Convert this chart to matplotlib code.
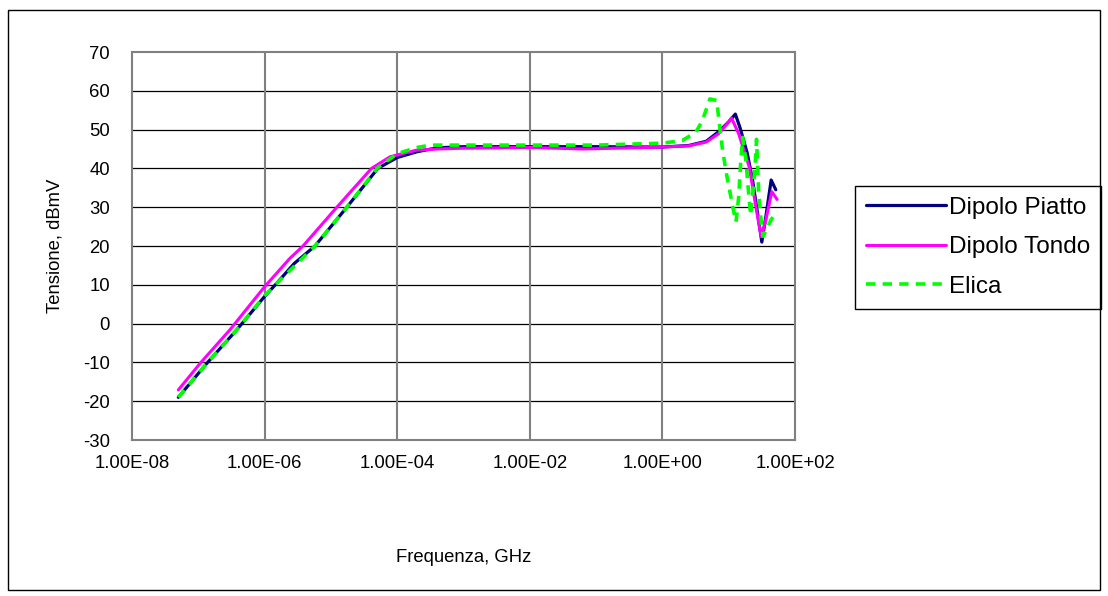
import matplotlib
matplotlib.use("Agg")
import matplotlib.pyplot as plt
from matplotlib.patches import Rectangle
from matplotlib.ticker import FixedLocator, FuncFormatter, NullLocator

plt.rcParams['font.family'] = ['Liberation Sans', 'DejaVu Sans']
plt.rcParams['axes.unicode_minus'] = False

# ---- data (frequency in GHz, voltage in dBmV) ----
piatto_f = [5.0e-8, 1.35e-7, 3.8e-7, 1.0e-6, 1.45e-6, 2.8e-6, 5.75e-6, 1.74e-5,
            5.1e-5, 1.0e-4, 2.0e-4, 4.0e-4, 1.0e-3, 1.0e-2, 1.0e-1, 1.0,
            2.5, 4.6, 7.1, 10.0, 12.6, 14.8, 19.0, 22.9, 27.5, 31.6, 36.3, 43.7, 51.3]
piatto_v = [-19.0, -10.2, -1.6, 7.0, 10.0, 15.5, 20.0, 30.0,
            40.0, 42.8, 44.3, 45.3, 45.6, 45.6, 45.6, 45.5,
            45.9, 47.0, 49.5, 52.0, 54.0, 50.5, 44.0, 37.0, 28.0, 21.0, 27.5, 37.0, 34.5]

tondo_f = [5.0e-8, 1.07e-7, 3.0e-7, 1.0e-6, 2.4e-6, 3.8e-6, 1.23e-5, 4.1e-5,
           7.8e-5, 1.95e-4, 4.0e-4, 1.0e-3, 1.0e-2, 6.3e-2, 1.0,
           2.5, 4.6, 7.1, 10.0, 11.0, 14.1, 20.4, 25.7, 30.9, 36.3, 44.7, 53.7]
tondo_v = [-17.1, -10.2, -1.6, 9.5, 16.8, 20.0, 30.0, 40.0,
           43.0, 44.7, 45.0, 45.2, 45.4, 45.0, 45.5,
           45.8, 46.8, 49.0, 52.0, 53.0, 49.0, 40.4, 30.1, 22.4, 26.7, 34.0, 32.0]

elica_f = [5.0e-8, 1.35e-7, 3.8e-7, 1.0e-6, 1.45e-6, 5.75e-6, 1.74e-5, 5.1e-5,
           1.0e-4, 2.0e-4, 3.2e-4, 1.0e-3, 1.0e-2, 1.0e-1, 1.0,
           2.0, 3.2, 4.0, 5.2, 6.6, 7.2, 8.1, 9.5, 12.0, 12.9, 14.1, 15.1,
           16.2, 18.2, 19.5, 21.4, 23.4, 25.1, 26.3, 28.2, 30.2, 33.1, 43.7, 52.5]
elica_v = [-19.0, -10.2, -1.6, 7.2, 10.0, 20.0, 30.0, 40.2,
           43.8, 45.4, 46.0, 46.0, 46.0, 46.0, 46.5,
           47.2, 49.3, 52.3, 57.9, 57.5, 51.7, 44.6, 37.5, 28.6, 26.2, 32.4, 41.0,
           48.0, 42.0, 35.7, 27.9, 34.7, 41.0, 47.5, 34.7, 27.9, 22.5, 26.8, 28.5]

xticks = [1e-8, 1e-6, 1e-4, 1e-2, 1e0, 1e2]
yticks = [-30, -20, -10, 0, 10, 20, 30, 40, 50, 60, 70]

W, H = 1108, 596
fig = plt.figure(figsize=(W / 100, H / 100), dpi=100)
fig.patch.set_facecolor('white')

L, R, T, B = 132, 795, 52, 440
ax = fig.add_axes([L / W, 1 - B / H, (R - L) / W, (B - T) / H])

ax.plot(piatto_f, piatto_v, color='#000080', lw=2.3, solid_joinstyle='round',
        solid_capstyle='round', label='Dipolo Piatto', zorder=3)
ax.plot(tondo_f, tondo_v, color='#FF00FF', lw=2.2, solid_joinstyle='round',
        solid_capstyle='round', label='Dipolo Tondo', zorder=4)
ax.plot(elica_f, elica_v, color='#00FF00', lw=2.6, dashes=(2.6, 2.0),
        label='Elica', zorder=5)

ax.set_xscale('log')
ax.set_xlim(1e-8, 1e2)
ax.set_ylim(-30, 70)
ax.xaxis.set_major_locator(FixedLocator(xticks))
ax.xaxis.set_minor_locator(NullLocator())
ax.xaxis.set_major_formatter(FuncFormatter(lambda v, p: f"{v:.2E}"))
ax.yaxis.set_major_locator(FixedLocator(yticks))

ax.tick_params(axis='both', length=0, labelsize=13.3, colors='black')
ax.tick_params(axis='y', pad=16)
ax.tick_params(axis='x', pad=11)

for yv in yticks[1:-1]:
    ax.axhline(yv, color='black', lw=0.9, zorder=1)
for xv in xticks[1:-1]:
    ax.axvline(xv, color='#808080', lw=1.5, zorder=1)

for s in ax.spines.values():
    s.set_color('#808080')
    s.set_linewidth(1.5)

ax.set_ylabel('Tensione, dBmV', fontsize=13.3, labelpad=14)
ax.set_xlabel('Frequenza, GHz', fontsize=13.3, labelpad=55)

leg = ax.legend(loc='upper left', bbox_to_anchor=(855 / W, 1 - 186 / H),
                bbox_transform=fig.transFigure, fontsize=17.5, frameon=True,
                fancybox=False, edgecolor='black', framealpha=1,
                handlelength=3.3, handletextpad=0.12, labelspacing=0.72,
                borderpad=0.45, borderaxespad=0)
leg.get_frame().set_linewidth(1.0)

fig.patches.append(Rectangle((8 / W, 1 - 590 / H), (1100 - 8) / W, (590 - 10) / H,
                             transform=fig.transFigure, fill=False,
                             edgecolor='black', lw=1.0))

fig.savefig('out.png', dpi=100)
